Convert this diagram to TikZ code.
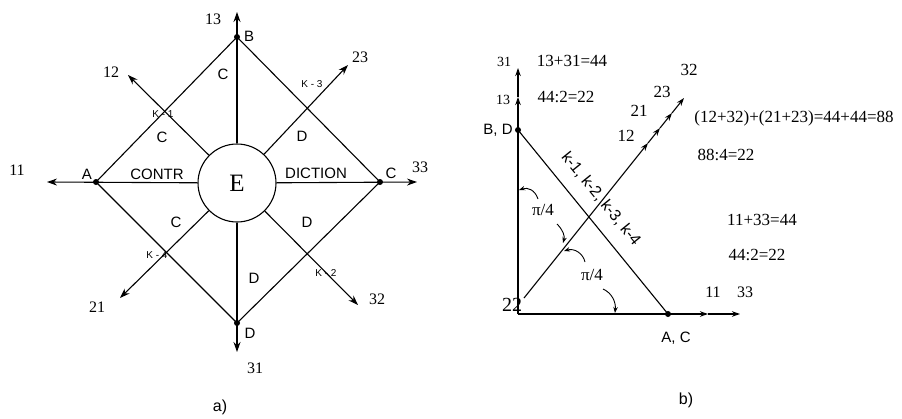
\documentclass[tikz,border=0pt]{standalone}
\usepackage{fontspec}
\setmainfont{Liberation Serif}
\newfontfamily\sansfont{Liberation Sans}
\usepackage{tikz}
\usetikzlibrary{arrows.meta, positioning}

\begin{document}
\begin{tikzpicture}[x=1pt, y=-1pt, line width=1.1pt,
    arr/.style={-{Stealth[length=10pt, width=7pt]}},
    marr/.style={-{Stealth[length=8pt, width=5.5pt]}},
    sarr/.style={line width=0.9pt, -{Stealth[length=6pt, width=4.5pt]}},
    dot/.style={circle, fill, inner sep=0pt, minimum size=6pt},
    num/.style={inner sep=0pt, font=\fontsize{16}{16}\selectfont},
    eqn/.style={inner sep=0pt, font=\fontsize{17}{17}\selectfont},
    lbl/.style={inner sep=0pt, font=\sansfont\fontsize{15}{15}\selectfont},
    klbl/.style={inner sep=0pt, font=\sansfont\fontsize{10}{10}\selectfont}]
  \useasboundingbox (0,0) rectangle (902,418);

  % a)
  \node[circle, draw, minimum size=78pt, inner sep=0pt, font=\fontsize{25}{25}\selectfont] (E) at (237,183) {E};
  \node[dot] (A) at (96,182) {};
  \node[dot] (B) at (237,37) {};
  \node[dot] (C) at (380,182) {};
  \node[dot] (D) at (237,323) {};
  \coordinate (x11) at (47,182);
  \coordinate (x33) at (417,182);
  \coordinate (x13) at (237,12);
  \coordinate (x31) at (237,352);
  \coordinate (x12) at (128,75);
  \coordinate (x23) at (348,65);
  \coordinate (x21) at (120,298);
  \coordinate (x32) at (358,305);

  \draw (A.center) -- (B.center) -- (C.center) -- (D.center) -- (A.center);
  \draw[arr] (E) -- (x11);
  \draw[arr] (E) -- (x33);
  \draw[arr] (E) -- (x13);
  \draw[arr] (E) -- (x31);
  \draw[arr] (E) -- (x12);
  \draw[arr] (E) -- (x23);
  \draw[arr] (E) -- (x21);
  \draw[arr] (E) -- (x32);

  \node[num] (n13) at (213,19) {13};
  \node[num] (n12) at (111,72) {12};
  \node[num] (n23) at (360,57) {23};
  \node[num] (n11) at (17,170) {11};
  \node[num] (n33) at (420,167) {33};
  \node[num] (n21) at (97,307) {21};
  \node[num] (n32) at (377,299) {32};
  \node[num] (n31) at (255,368) {31};
  \node[lbl] (lB) at (249,36) {B};
  \node[lbl] (lA) at (87,174) {A};
  \node[lbl] (lC) at (391,173) {C};
  \node[lbl] (lD) at (250,333) {D};
  \node[lbl] (c1) at (223,74) {C};
  \node[lbl] (c2) at (162,137) {C};
  \node[lbl] (c3) at (176,222) {C};
  \node[lbl] (d1) at (302,136) {D};
  \node[lbl] (d2) at (307,222) {D};
  \node[lbl] (d3) at (254,278) {D};
  \node[lbl] (contr) at (157,174) {CONTR};
  \node[lbl] (diction) at (316,173) {DICTION};
  \node[klbl] (k1) at (163,114) {K - 1};
  \node[klbl] (k3) at (312,84) {K - 3};
  \node[klbl] (k4) at (157,255) {K - 4};
  \node[klbl] (k2) at (326,273) {K - 2};
  \node[lbl, font=\sansfont\fontsize{16}{16}\selectfont] (capa) at (220,407) {a)};

  % b)
  \node[dot] (BD) at (518,130) {};
  \node[dot] (AC) at (668,314) {};
  \coordinate (O) at (518,314);
  \coordinate (v13) at (518,97);
  \coordinate (v31) at (518,68);
  \coordinate (h11) at (708,314);
  \coordinate (h33) at (740,314);
  \coordinate (s0) at (524,298);
  \coordinate (p12) at (648,143);
  \coordinate (p21) at (660,128);
  \coordinate (p23) at (672,113);
  \coordinate (p32) at (684,98);

  \draw (O) -- (BD.center);
  \draw[marr] (BD.center) -- (v13);
  \draw[marr] (v13) -- (v31);
  \draw[marr] (O) -- (h11);
  \draw[marr] (h11) -- (h33);
  \draw (BD.center) -- (AC.center);
  \draw[marr] (s0) -- (p12);
  \draw[marr] (p12) -- (p21);
  \draw[marr] (p21) -- (p23);
  \draw[marr] (p23) -- (p32);

  \coordinate (a1s) at (538,199);
  \coordinate (a1e) at (519,190);
  \coordinate (a2s) at (557,224);
  \coordinate (a2e) at (563,243);
  \coordinate (a3s) at (585,262);
  \coordinate (a3e) at (564,251);
  \coordinate (a4s) at (603,289);
  \coordinate (a4e) at (615,313);
  \draw[sarr] (a1s) .. controls (535,190) and (528,187) .. (a1e);
  \draw[sarr] (a2s) .. controls (563,230) and (565,236) .. (a2e);
  \draw[sarr] (a3s) .. controls (583,253) and (574,248) .. (a3e);
  \draw[sarr] (a4s) .. controls (612,293) and (616,302) .. (a4e);

  \node[num, font=\fontsize{14}{14}\selectfont] (b31) at (504,62) {31};
  \node[num, font=\fontsize{14}{14}\selectfont] (b13) at (503,100) {13};
  \node[lbl] (lBD) at (498,130) {B, D};
  \node[lbl] (lAC) at (676,338) {A, C};
  \node[eqn] (e1) at (572,61) {13+31=44};
  \node[eqn] (e2) at (566,97) {44:2=22};
  \node[eqn] (b12) at (626,136) {12};
  \node[eqn] (b21) at (639,111) {21};
  \node[eqn] (b23) at (662,92) {23};
  \node[eqn] (b32) at (689,70) {32};
  \node[eqn] (e3) at (794,118) {(12+32)+(21+23)=44+44=88};
  \node[eqn] (e4) at (726,155) {88:4=22};
  \node[eqn] (e5) at (762,220) {11+33=44};
  \node[eqn] (e6) at (757,255) {44:2=22};
  \node[num] (b11) at (713,292) {11};
  \node[num] (b33) at (745,292) {33};
  \node[num, font=\fontsize{20}{20}\selectfont] (b22) at (512,305) {22};
  \node[eqn] (pi1) at (543,210) {π/4};
  \node[eqn] (pi2) at (592,275) {π/4};
  \node[lbl, font=\sansfont\fontsize{16}{16}\selectfont, rotate=-51] (kk) at (601,199) {k-1, k-2, k-3, k-4};
  \node[lbl, font=\sansfont\fontsize{16}{16}\selectfont] (capb) at (686,400) {b)};
\end{tikzpicture}
\end{document}
